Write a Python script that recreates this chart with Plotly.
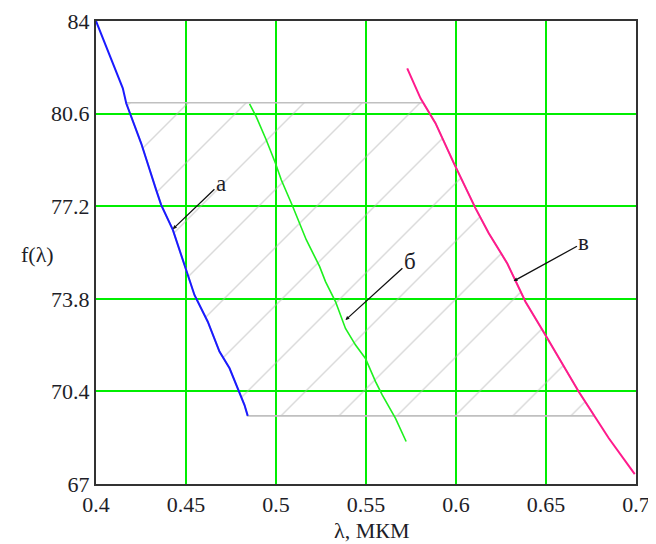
import numpy as np
import plotly.graph_objects as go

# ---- data ----
blue_x = [0.4000, 0.4057, 0.4112, 0.4149, 0.4168, 0.4251, 0.4334, 0.4362, 0.4427,
          0.4492, 0.4547, 0.4621, 0.4686, 0.4742, 0.4797, 0.4825, 0.4843]
blue_y = [84.00, 83.06, 82.20, 81.53, 80.98, 79.51, 77.80, 77.25, 76.33,
          74.99, 73.94, 72.96, 71.86, 71.25, 70.39, 69.90, 69.50]

green_x = [0.4853, 0.4890, 0.4946, 0.4997, 0.5029, 0.5093, 0.5168, 0.5242, 0.5275,
           0.5331, 0.5386, 0.5442, 0.5497, 0.5553, 0.5590, 0.5664, 0.5723]
green_y = [80.96, 80.49, 79.63, 78.78, 78.17, 77.19, 75.97, 74.99, 74.43,
           73.69, 72.71, 72.10, 71.61, 70.76, 70.27, 69.41, 68.56]

pink_x = [0.5729, 0.5803, 0.5886, 0.5988, 0.6108, 0.6182, 0.6284, 0.6386,
          0.6497, 0.6682, 0.6849, 0.6993]
pink_y = [82.26, 81.16, 80.25, 78.78, 77.13, 76.21, 75.11, 73.69,
          72.47, 70.39, 68.68, 67.36]

band_top = 81.0
band_bottom = 69.5

x_ticks = [0.4, 0.45, 0.5, 0.55, 0.6, 0.65, 0.7]
x_ticktext = ["0.4", "0.45", "0.5", "0.55", "0.6", "0.65", "0.7"]
y_ticks = [67, 70.4, 73.8, 77.2, 80.6, 84]
y_ticktext = ["67", "70.4", "73.8", "77.2", "80.6", "84"]

labels = ["а", "б", "в"]
label_pts = [(0.4427, 76.36), (0.5386, 73.02), (0.6320, 74.45)]
label_txt = [(0.4694, 78.05), (0.5744, 75.17), (0.6711, 75.87)]

# ---- hatched band between blue and pink curves ----
bx, by = np.array(blue_x), np.array(blue_y)
px_, py_ = np.array(pink_x), np.array(pink_y)

def x_at(xs, ys, yv):
    return float(np.interp(yv, ys[::-1], xs[::-1]))

mask_b = (by < band_top) & (by > band_bottom)
mask_p = (py_ < band_top) & (py_ > band_bottom)
poly_x = ([x_at(bx, by, band_top)] + list(bx[mask_b]) + [x_at(bx, by, band_bottom)]
          + [x_at(px_, py_, band_bottom)] + list(px_[mask_p][::-1]) + [x_at(px_, py_, band_top)]
          + [x_at(bx, by, band_top)])
poly_y = ([band_top] + list(by[mask_b]) + [band_bottom]
          + [band_bottom] + list(py_[mask_p][::-1]) + [band_top] + [band_top])

font_family = "Liberation Serif"
txt_color = "#1e1e28"

fig = go.Figure()
fig.add_trace(go.Scatter(
    x=poly_x, y=poly_y, mode="lines", fill="toself",
    fillcolor="rgba(0,0,0,0)",
    fillpattern=dict(shape="/", size=41, solidity=0.035, fgcolor="#b4b4b4",
                     bgcolor="rgba(0,0,0,0)"),
    line=dict(color="#c0c0c0", width=1.6), hoverinfo="skip", showlegend=False))
fig.add_trace(go.Scatter(x=blue_x, y=blue_y, mode="lines",
                         line=dict(color="#1a1aff", width=2), showlegend=False))
fig.add_trace(go.Scatter(x=green_x, y=green_y, mode="lines",
                         line=dict(color="#1ef01e", width=1.6), showlegend=False))
fig.add_trace(go.Scatter(x=pink_x, y=pink_y, mode="lines",
                         line=dict(color="#ff1a8c", width=2), showlegend=False))

for lab, (x0, y0), (xt, yt) in zip(labels, label_pts, label_txt):
    fig.add_annotation(x=x0, y=y0, ax=xt, ay=yt, xref="x", yref="y", axref="x", ayref="y",
                       text=lab, showarrow=True, arrowhead=2, arrowsize=0.6, arrowwidth=1.3,
                       arrowcolor="#111", standoff=0, startstandoff=0,
                       font=dict(family=font_family, size=23, color=txt_color))

fig.add_annotation(x=-0.109, y=0.495, xref="paper", yref="paper", text="f(λ)",
                   xanchor="center", yanchor="middle",
                   showarrow=False, font=dict(family=font_family, size=22, color=txt_color))
fig.add_annotation(x=0.511, y=-0.100, xref="paper", yref="paper", text="λ, МКМ",
                   xanchor="center", yanchor="middle",
                   showarrow=False, font=dict(family=font_family, size=22, color=txt_color))

axis_common = dict(showgrid=True, gridcolor="#00ee00", gridwidth=2, zeroline=False,
                   showline=True, linecolor="#333333", linewidth=2, mirror=True, ticks="",
                   automargin=False,
                   tickfont=dict(family=font_family, size=22, color=txt_color))
fig.update_xaxes(range=[0.4, 0.7], tickvals=x_ticks, ticktext=x_ticktext, **axis_common)
fig.update_yaxes(range=[67, 84], tickvals=y_ticks, ticktext=y_ticktext, **axis_common)

# page body adds an 8px offset, so margins are reduced accordingly
fig.update_layout(width=656, height=544, margin=dict(l=88, r=28, t=13, b=68),
                  plot_bgcolor="white", paper_bgcolor="white")

fig.write_html("out.html")
